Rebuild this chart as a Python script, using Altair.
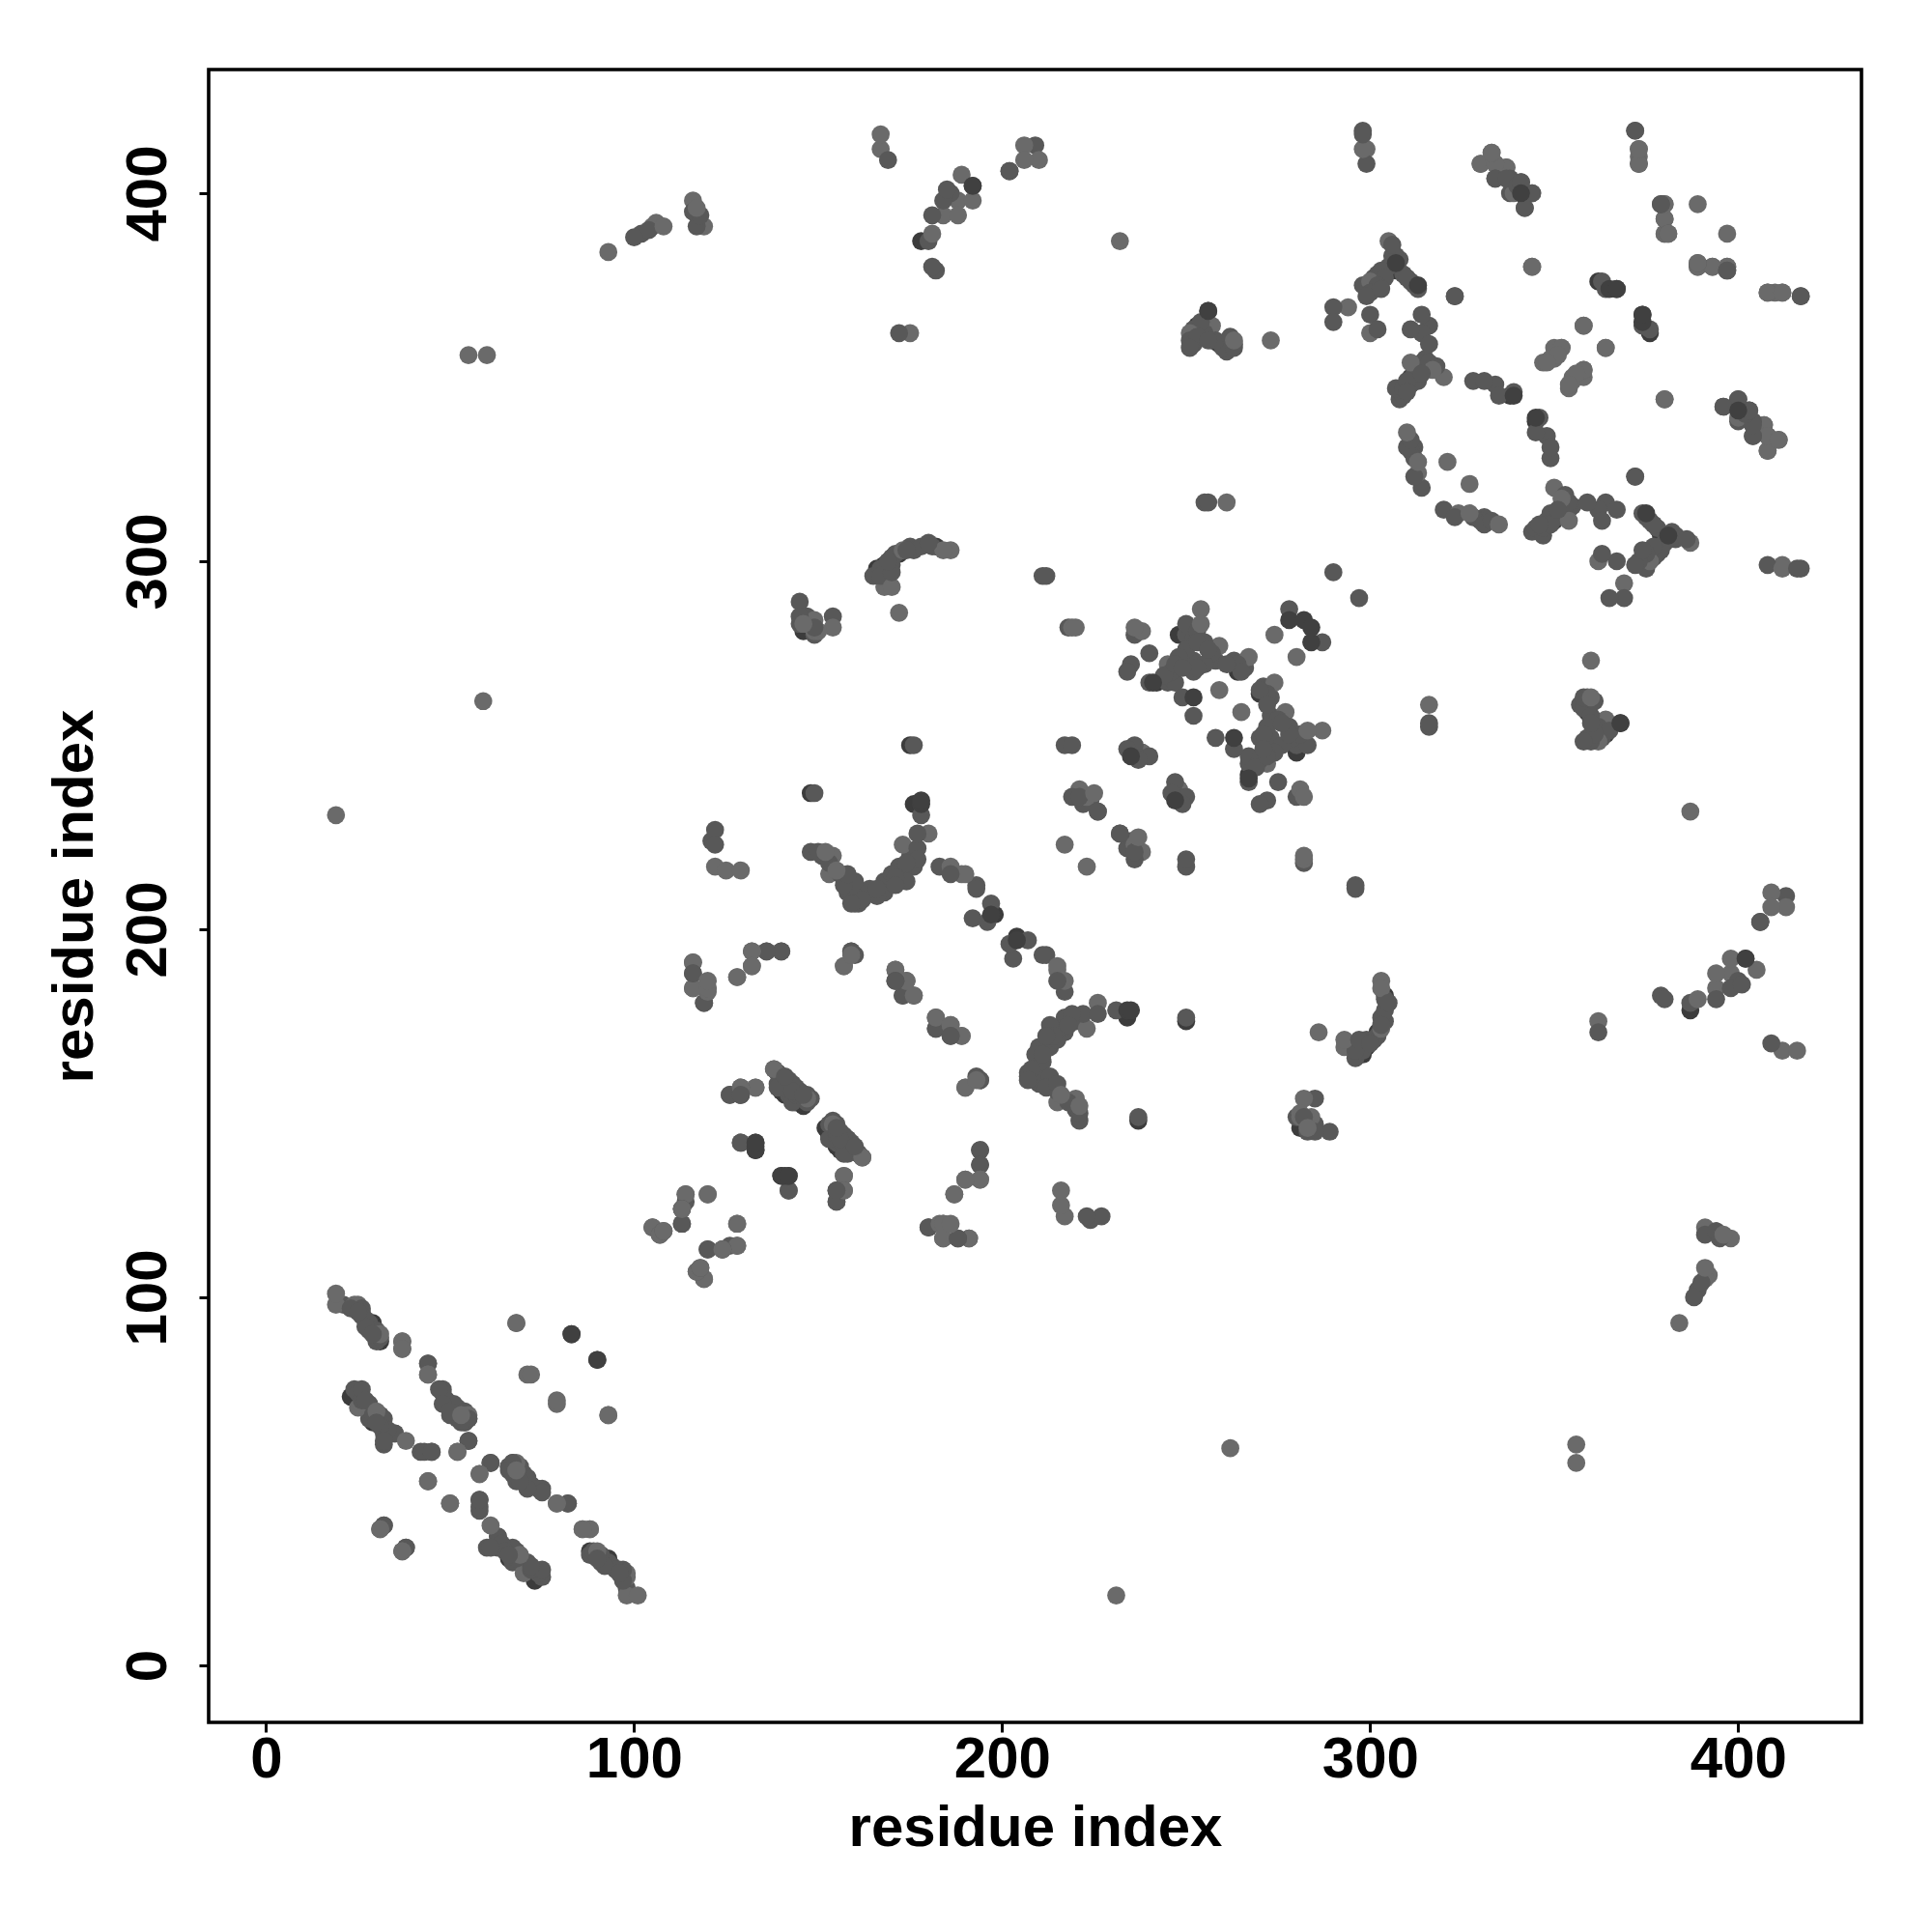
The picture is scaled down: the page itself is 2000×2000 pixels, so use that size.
import altair as alt
import pandas as pd

# contact pairs (i, j); the map is symmetric
dark_under = [
    (29,93),(31,88),(23,73),(29,66),(72,49),(67,55),(129,155),(146,152),(141,155),(144,153),
    (153,145),(156,140),(176,234),(175,250),(166,298),(182,304),(146,281),(148,237),
    (248,280),(264,270),(242,267),(238,248),(259,359),(307,379),(178,387),(202,406),
    (256,368),(338,345),(362,376),(198,204),(154,144),(156,143),(142,156),(145,153),
    (168,299),(172,302),(253,364),(257,360),(304,378),(306,381),(311,350),(313,350),
]
mid_tone = [
    (21,98),(26,97),(26,95),(27,94),(27,92),(29,90),(30,88),(44,82),(47,75),(48,75),(48,71),
    (50,70),(52,70),(54,66),(55,61),(61,55),(58,45),(58,43),(60,32),(63,35),(50,44),(82,44),
    (32,38),(38,32),(24,75),(26,75),(27,72),(28,71),(29,68),(31,65),(32,67),(32,61),(35,63),
    (42,58),(45,58),(66,54),(67,55),(68,52),(69,50),(70,51),(74,48),
    (23,97),(25,96),(26,96),(28,93),(28,91),(30,91),(31,89),
    (25,74),(26,72),(27,70),(28,67),(30,66),(31,68),(33,64),(32,63),
    (49,72),(51,71),(50,68),(52,67),(53,66),(54,69),
    (116,191),(116,188),(116,184),(119,180),(136,194),(140,194),(159,194),(171,186),(173,182),
    (182,176),(182,173),(186,171),(193,160),(194,159),(138,162),(140,160),(143,158),(145,156),
    (139,158),(126,155),(129,157),(154,148),(155,145),(158,143),(157,141),(153,143),(129,142),
    (139,161),(141,158),(143,156),(144,155),(146,155),(147,153),(141,160),
    (155,147),(157,144),(158,141),(159,142),(161,139),(155,142),(157,139),
    (142,129),(155,129),(155,126),(194,140),(194,136),(180,119),(188,116),(114,128),(114,126),
    (113,124),(113,120),(120,113),(124,113),(105,119),(118,108),(117,107),
    (160,207),(159,207),(161,207),(158,210),(157,212),(164,210),(166,209),(168,210),(171,212),
    (174,213),(192,203),(196,202),(197,207),(193,211),
    (151,220),(153,218),(156,215),(157,214),(159,210),(161,210),(162,208),
    (165,210),(169,213),(171,214),(173,216),(175,220),(176,217),
    (165,296),(167,296),(170,297),(170,299),(169,300),(171,302),(174,303),(175,304),(180,305),
    (167,298),(170,301),(176,303),(178,304),
    (145,283),(147,283),
    (181,304),(211,296),(145,289),(145,285),(147,285),(149,280),(154,285),(176,250),(149,237),
    (178,231),(177,222),(177,226),(177,219),(174,218),(172,217),(170,215),(168,213),(166,211),
    (164,211),(122,227),(122,223),(121,224),(148,221),(150,221),(158,215),(160,213),(183,217),
    (186,215),(193,212),(149,282),
    (102,389),(100,388),(104,390),(117,391),(116,395),(118,394),(169,409),(202,406),(209,413),
    (192,402),(185,401),(184,398),(181,394),(186,400),(180,387),(181,380),(182,379),(172,362),
    (255,316),(256,316),(212,296),(290,297),(217,250),(218,282),(236,280),(240,275),(234,270),
    (235,272),(240,267),(245,267),(247,267),(250,283),(253,278),(255,278),(248,274),(252,273),
    (249,271),(247,271),(252,270),(258,273),(263,273),(265,272),(252,258),(249,263),(278,287),
    (234,249),(236,250),(237,246),(240,247),(219,236),(222,234),(226,232),(226,232),(219,250),
    (250,280),(252,279),(253,281),(250,276),(256,276),(257,275),(247,272),(246,270),(244,269),
    (261,272),(264,272),(265,270),(266,271),(253,271),(255,272),
    (235,249),(236,248),(238,247),(221,236),(224,235),
    (298,417),(298,416),(299,408),(254,365),(251,360),(252,359),(256,360),(258,360),(261,357),
    (252,363),(253,361),(255,362),(251,358),(262,361),(263,359),(260,358),
    (263,358),(290,369),(290,365),(300,367),(302,363),(298,375),(300,373),(299,372),(301,377),
    (303,379),(304,377),(305,380),(306,383),(308,382),(310,377),(312,375),(313,374),(323,372),
    (302,375),(302,378),(306,386),(307,383),(309,378),(311,376),(299,374),(303,374),
    (314,367),(311,363),(316,364),(314,362),(316,359),(315,352),(314,354),(313,349),(311,348),
    (309,347),(307,347),(308,344),(310,346),(312,351),(310,331),(312,331),(314,320),(312,323),
    (309,345),(310,348),(314,351),(315,355),(316,354),(310,349),(313,353),(318,353),(311,330),
    (312,328),(311,333),
    (337,407),(334,404),(337,404),(341,403),(338,400),(344,400),(342,396),(372,417),(379,397),
    (336,406),(340,402),(402,339),(405,336),
    (380,393),(397,379),(323,372),(328,349),(331,349),(334,348),(335,345),(339,346),(396,342),
    (400,344),(403,341),(404,338),(404,334),(376,363),(374,364),(408,373),(417,372),(381,389),
]
light_tone = [
    (19,101),(19,98),(24,98),(25,98),(31,90),(37,88),(37,86),(44,79),(53,68),(55,68),(52,58),
    (58,52),(44,50),(31,37),(37,31),(79,44),(86,37),(88,37),(68,93),(71,79),(79,72),(93,68),
    (25,70),(30,69),(38,61),
    (120,183),(120,184),(128,187),(132,190),(132,194),(157,190),(159,193),(171,189),(174,186),
    (176,182),(186,174),(189,171),(190,157),(147,154),(133,157),(162,138),(160,140),(190,132),
    (194,132),(187,128),(157,133),(157,129),(184,120),(186,120),(184,116),(191,116),(120,128),
    (128,120),(108,118),(107,117),(124,113),(128,114),(119,105),
    (168,293),(170,293),(173,303),(186,303),(184,303),(172,286),(173,223),(180,226),(146,283),
    (149,281),(154,282),(122,217),(125,216),(129,216),(152,221),(154,220),(155,216),(153,215),
    (186,217),(190,215),(189,215),(150,281),(149,284),
    (93,384),(106,392),(108,391),(105,391),(116,398),(117,396),(119,391),(167,416),(167,412),
    (206,413),(206,409),(210,409),(189,405),(188,398),(192,398),(188,394),(184,394),(181,389),
    (175,362),(55,356),(60,356),(19,231),(59,262),(232,387),
    (261,316),(219,282),(220,282),(238,281),(236,282),(245,272),(254,283),(254,287),(259,277),
    (267,274),(259,265),(274,280),(221,238),(225,237),(223,236),(217,223),(238,248),
    (299,412),(298,412),(257,364),(251,362),(263,360),(273,360),(294,369),(300,362),(305,387),
    (300,376),(320,350),(317,352),(311,354),(310,335),(313,327),(313,324),(321,327),
    (333,411),(330,408),(334,408),(373,412),(373,410),(373,408),(380,397),(380,389),(389,397),
    (389,381),(389,380),(393,380),(397,380),(344,380),(412,373),(358,364),(352,358),(350,358),
    (347,354),(349,355),(364,358),(358,352),(356,351),(354,348),(355,350),(380,344),(400,339),
    (407,337),(408,334),(411,333),(408,330),(400,341),
]
dark_top = [
    (83,90),(90,83),(133,142),(133,141),(133,140),(140,133),(142,133),(178,234),(178,235),
    (252,263),(278,284),(241,267),(256,368),(307,381),(313,375),(365,374),(367,374),(374,367),
    (192,402),(197,204),(282,284),(341,400),(339,345),(235,247),
]
DARK, MID, LIGHT = "#3c3c3c", "#585858", "#6a6a6a"

# mid and light circles are interleaved so that overlaps show separate discs
middle = [(p, MID) for p in mid_tone] + [(p, LIGHT) for p in light_tone]
middle.sort(key=lambda item: item[0][0] * item[0][1] % 7)
ordered = [(p, DARK) for p in dark_under] + middle + [(p, "#404040") for p in dark_top]

rows = []
for (i, j), grey in ordered:
    rows.append({"x": i, "y": j, "grey": grey})
    rows.append({"x": j, "y": i, "grey": grey})
df = pd.DataFrame(rows)

ticks = [0, 100, 200, 300, 400]
font = "Liberation Sans"

x_axis = alt.Axis(values=ticks, title="residue index", grid=False, domain=False, format="d",
                  tickColor="black", tickSize=10, tickWidth=3, labelColor="black",
                  labelFont=font, labelFontWeight="bold", labelFontSize=60, labelPadding=-1,
                  titleFont=font, titleFontWeight="bold", titleFontSize=60, titleColor="black",
                  titlePadding=12, labelFlush=False, labelOverlap=False)
y_axis = alt.Axis(values=ticks, title="residue index", grid=False, domain=False, format="d",
                  tickColor="black", tickSize=10, tickWidth=3, labelColor="black",
                  labelFont=font, labelFontWeight="bold", labelFontSize=60, labelPadding=22,
                  labelAngle=270, labelAlign="center", labelBaseline="bottom",
                  titleFont=font, titleFontWeight="bold", titleFontSize=60, titleColor="black",
                  titlePadding=15, labelFlush=False, labelOverlap=False)

chart = (
    alt.Chart(df)
    .mark_circle(size=350, opacity=1)
    .encode(
        x=alt.X("x:Q", axis=x_axis, scale=alt.Scale(domain=[-15.6, 433.5], nice=False, zero=False)),
        y=alt.Y("y:Q", axis=y_axis, scale=alt.Scale(domain=[-15.5, 433.6], nice=False, zero=False)),
        color=alt.Color("grey:N", scale=None),
    )
    .properties(
        width=1711, height=1711,
        autosize=alt.AutoSizeParams(type="none"),
        padding={"left": 208, "top": 64, "right": 60, "bottom": 200},
        background="white",
    )
    .configure_view(stroke="black", strokeWidth=3.6)
)
chart.save("out.html", embed_options={"renderer": "svg", "actions": False})
